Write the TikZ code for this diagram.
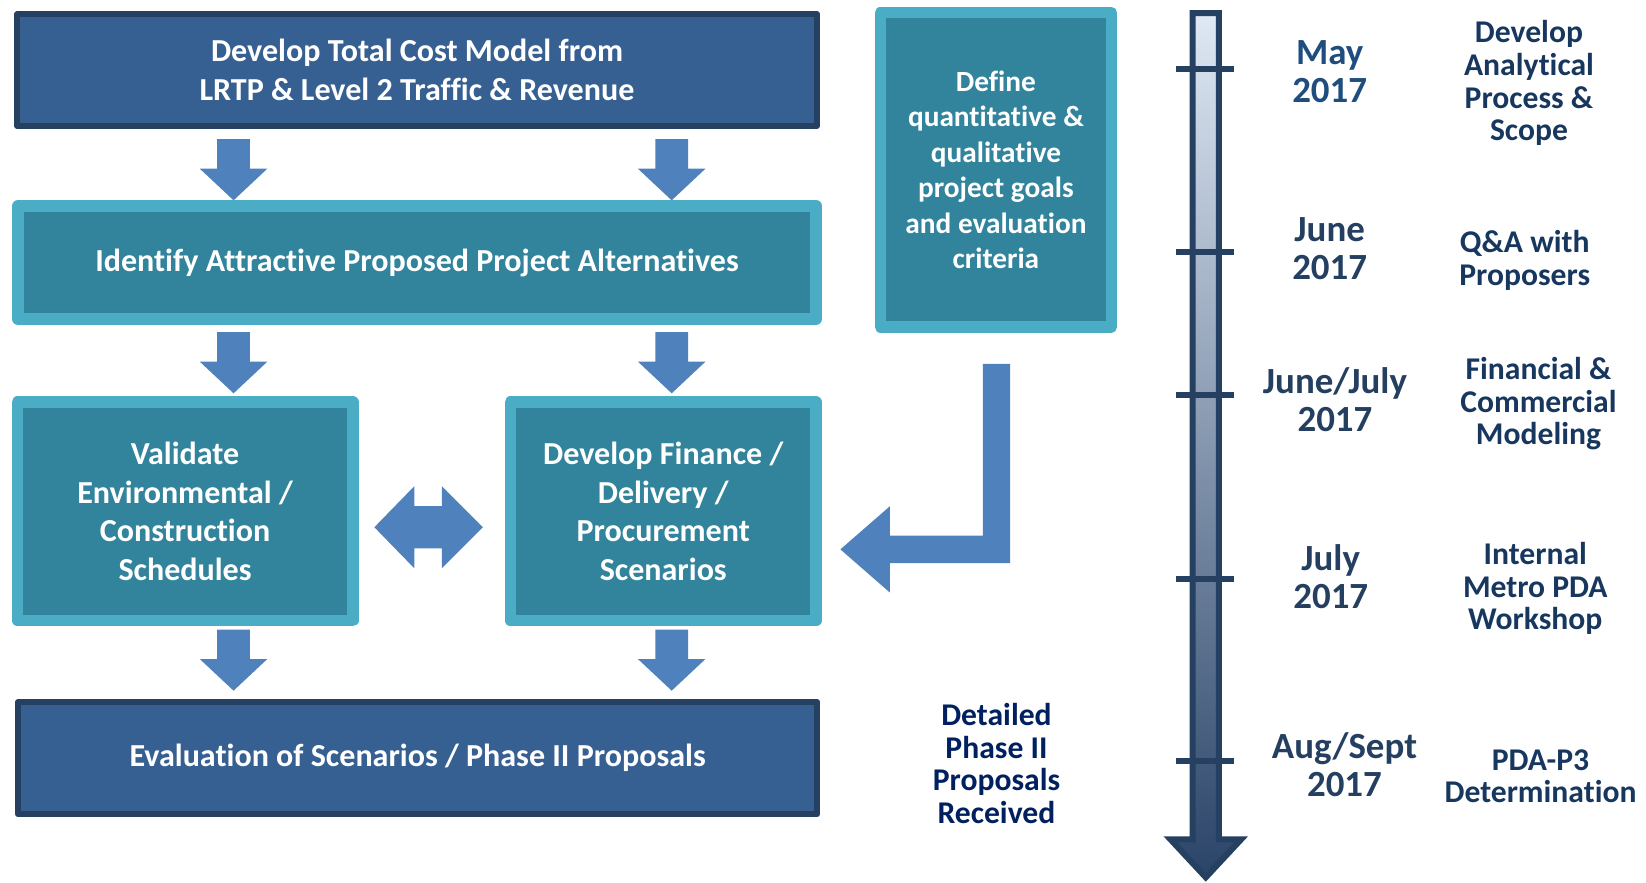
\documentclass[tikz,border=0pt]{standalone}
\usepackage{fontspec}
\setmainfont{Carlito}[RawFeature={-liga;-clig;-dlig;-calt;-rlig}]

\definecolor{darkfill}{HTML}{376092}
\definecolor{darkedge}{HTML}{254061}
\definecolor{tealfill}{HTML}{31849B}
\definecolor{tealedge}{HTML}{4BACC6}
\definecolor{arrowblue}{HTML}{4F81BD}
\definecolor{linetop}{HTML}{DFE8F4}
\definecolor{linebot}{HTML}{2A4468}
\definecolor{datecol}{HTML}{243F60}
\definecolor{maycol}{HTML}{1F4E7E}
\definecolor{taskcol}{HTML}{17375E}
\definecolor{navy}{HTML}{002060}

\begin{document}
\begin{tikzpicture}[x=0.5pt,y=-0.5pt,
  darkstep/.style={draw=darkedge,fill=darkfill,line width=2.85pt,line join=round,inner sep=0pt,
    align=center,text=white,font=\fontsize{15.2}{18.5}\selectfont\bfseries},
  tealstep/.style={draw=tealedge,fill=tealfill,line width=5.5pt,line join=round,inner sep=0pt,
    align=center,text=white,font=\fontsize{15.2}{18.3}\selectfont\bfseries},
  blockarrow/.style={fill=arrowblue},
  datelabel/.style={text=datecol,align=center,font=\fontsize{17.5}{17.8}\selectfont\bfseries},
  tasklabel/.style={text=taskcol,align=center,font=\fontsize{15}{15.5}\selectfont\bfseries}]
\useasboundingbox (0,0) rectangle (1561,837);

% Cost model
\node[darkstep,minimum width=379pt,minimum height=53.1pt] (cost) at (395.5,66.4)
  {Develop Total Cost Model from\\LRTP \& Level 2 Traffic \& Revenue};

% Alternatives
\node[tealstep,minimum width=378.5pt,minimum height=53.5pt] (alts) at (395.5,249)
  {Identify Attractive Proposed Project Alternatives};

% Validate
\node[tealstep,minimum width=159pt,minimum height=103.5pt] (validate) at (175.5,485)
  {Validate\\Environmental /\\Construction\\Schedules};

% Finance
\node[tealstep,minimum width=145pt,minimum height=103.5pt] (finance) at (629,485)
  {Develop Finance /\\Delivery /\\Procurement\\Scenarios};

% Evaluation
\node[darkstep,minimum width=379pt,minimum height=53.15pt] (evaluation) at (396,719)
  {Evaluation of Scenarios / Phase II Proposals};

% Goals
\node[tealstep,minimum width=109.5pt,minimum height=149pt,
  font=\fontsize{13.9}{16.8}\selectfont\bfseries] (goals) at (944.5,161)
  {Define\\quantitative \&\\qualitative\\project goals\\and evaluation\\criteria};

\node[tasklabel,text=navy] (received) at (945,724) {Detailed\\Phase II\\Proposals\\Received};

% down arrows
\foreach \ax in {221.5,637}
  \foreach \ay in {132,315,597}
    \fill[blockarrow] (\ax-15.5,\ay) -- (\ax+15.5,\ay) -- (\ax+15.5,\ay+28) -- (\ax+32,\ay+28)
      -- (\ax,\ay+58) -- (\ax-32,\ay+28) -- (\ax-15.5,\ay+28) -- cycle;

% double arrow
\fill[blockarrow] (355,500) -- (393,461) -- (393,480) -- (419,480) -- (419,461) -- (458,500)
  -- (419,539) -- (419,520) -- (393,520) -- (393,539) -- cycle;

% bent arrow
\fill[blockarrow] (932,345) -- (958,345) -- (958,534) -- (844,534) -- (844,562) -- (797,521)
  -- (844,480) -- (844,508) -- (932,508) -- cycle;

% Timeline
\shadedraw[top color=linetop,bottom color=linebot,draw=darkedge,line width=2.85pt]
  (1131,12.4) -- (1156,12.4) -- (1156,796) -- (1177,796) -- (1143.5,832) -- (1110,796)
  -- (1131,796) -- cycle;
\foreach \ty in {65,239,375,549,722}
  \draw[darkedge,line width=2.85pt] (1115,\ty) -- (1170,\ty);

% dates
\node[datelabel,text=maycol] (may) at (1261,68) {May\\2017};
\node[datelabel] (june) at (1261,236) {June\\2017};
\node[datelabel] (junejuly) at (1266,379) {June/July\\2017};
\node[datelabel] (july) at (1262,547) {July\\2017};
\node[datelabel] (augsept) at (1275,725) {Aug/Sept\\2017};

% tasks
\node[tasklabel] (scope) at (1450,79) {Develop\\Analytical\\Process \&\\Scope};
\node[tasklabel] (qa) at (1446,247) {Q\&A with\\Proposers};
\node[tasklabel] (model) at (1459,383) {Financial \&\\Commercial\\Modeling};
\node[tasklabel] (workshop) at (1456,558) {Internal\\Metro PDA\\Workshop};
\node[tasklabel] (pda) at (1461,736) {PDA-P3\\Determination};

\end{tikzpicture}
\end{document}
